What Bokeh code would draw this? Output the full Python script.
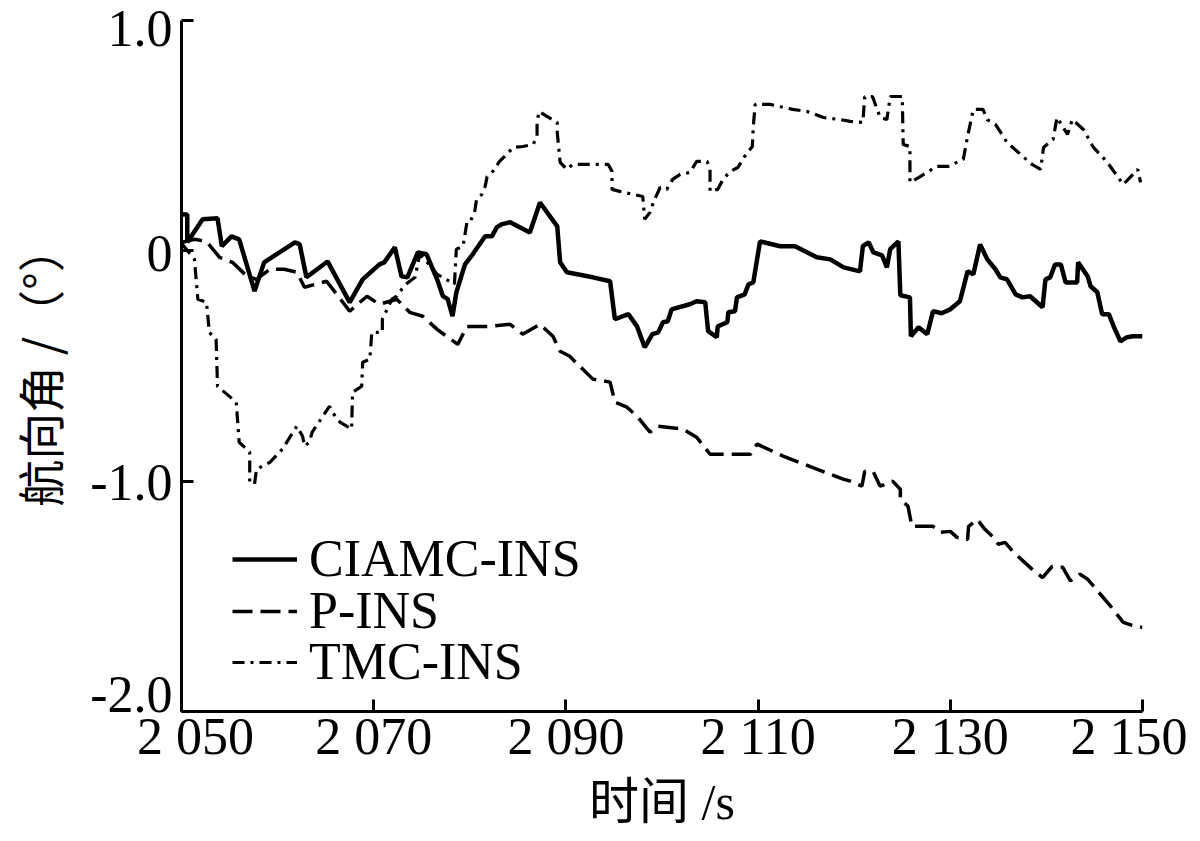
from bokeh.plotting import figure
from bokeh.models import Range1d, FixedTicker, Legend, LegendItem, LinearAxis
from bokeh.embed import file_html
from bokeh.resources import INLINE

# ---- data ----
ciamc_t = [2050.1, 2050.6, 2050.6, 2052.2, 2053.75, 2054.2, 2055.2, 2056.0, 2057.6, 2058.6,
           2061.8, 2062.3, 2063.0, 2065.2, 2067.5, 2068.85, 2070.6, 2071.1, 2072.2, 2072.9,
           2073.5, 2074.6, 2075.5, 2076.6, 2077.2, 2077.7, 2078.2, 2078.6, 2079.5, 2080.3,
           2081.6, 2082.3, 2082.8, 2083.3, 2084.2, 2086.25, 2087.3, 2089.1, 2089.4, 2090.1,
           2092.8, 2094.6, 2095.1, 2096.5, 2097.4, 2098.2, 2099.0, 2099.6, 2100.1, 2100.6,
           2101.0, 2102.9, 2103.6, 2104.5, 2104.8, 2105.7, 2105.8, 2106.8, 2106.9, 2107.6,
           2107.8, 2108.6, 2109.0, 2109.5, 2110.2, 2112.3, 2113.85, 2116.1, 2117.5, 2118.9,
           2120.6, 2120.9, 2121.5, 2122.0, 2122.9, 2123.4, 2123.75, 2124.6, 2124.8, 2125.8,
           2125.9, 2126.7, 2127.6, 2128.2, 2129.1, 2130.0, 2131.0, 2131.8, 2132.4, 2133.1,
           2133.85, 2134.7, 2135.2, 2135.9, 2136.8, 2137.5, 2138.3, 2139.6, 2139.9, 2140.4,
           2140.9, 2141.5, 2142.0, 2143.2, 2143.3, 2144.3, 2144.6, 2145.3, 2145.8, 2146.5,
           2147.0, 2147.7, 2148.4, 2149.0, 2150.0]
ciamc_v = [0.158, 0.158, 0.037, 0.137, 0.141, 0.020, 0.063, 0.050, -0.175, -0.050,
           0.037, 0.028, -0.115, -0.046, -0.224, -0.124, -0.059, -0.050, 0.015, -0.111,
           -0.115, -0.007, -0.015, -0.124, -0.197, -0.210, -0.284, -0.180, -0.059, -0.015,
           0.063, 0.063, 0.102, 0.115, 0.124, 0.080, 0.210, 0.106, -0.050, -0.093,
           -0.115, -0.132, -0.297, -0.275, -0.328, -0.419, -0.362, -0.354, -0.310, -0.306,
           -0.254, -0.232, -0.219, -0.223, -0.349, -0.375, -0.328, -0.310, -0.267, -0.262,
           -0.202, -0.189, -0.145, -0.137, 0.041, 0.020, 0.020, -0.028, -0.037, -0.072,
           -0.089, 0.020, 0.037, -0.007, -0.020, -0.072, 0.007, 0.041, -0.193, -0.202,
           -0.371, -0.332, -0.362, -0.262, -0.271, -0.254, -0.219, -0.089, -0.102, 0.028,
           -0.037, -0.080, -0.115, -0.124, -0.189, -0.202, -0.197, -0.245, -0.124, -0.115,
           -0.059, -0.059, -0.137, -0.137, -0.050, -0.111, -0.154, -0.180, -0.275, -0.275,
           -0.328, -0.393, -0.375, -0.371, -0.371]

pins_t = [2050.1, 2051.35, 2052.6, 2053.96, 2055.3, 2056.8, 2057.8, 2059.2, 2060.7, 2062.0,
          2062.8, 2065.1, 2067.5, 2069.3, 2070.6, 2072.4, 2073.75, 2075.1, 2076.6, 2078.75,
          2079.7, 2082.1, 2084.2, 2085.5, 2087.3, 2088.65, 2089.4, 2090.4, 2092.8, 2094.6,
          2095.1, 2096.35, 2097.4, 2098.75, 2099.6, 2102.2, 2103.6, 2105.0, 2109.2, 2109.9,
          2112.6, 2116.1, 2118.85, 2119.6, 2120.8, 2121.1, 2122.0, 2122.7, 2124.0, 2124.8,
          2124.8, 2125.6, 2126.0, 2128.2, 2129.0, 2130.0, 2130.7, 2131.8, 2131.9, 2132.8,
          2133.6, 2134.5, 2135.0, 2135.7, 2136.6, 2138.5, 2139.6, 2140.6, 2141.7, 2142.5,
          2143.5, 2144.3, 2146.7, 2148.0, 2149.3, 2150.0]
pins_v = [0.037, 0.050, 0.041, -0.028, -0.050, -0.110, -0.124, -0.080, -0.080, -0.093,
          -0.158, -0.132, -0.262, -0.197, -0.232, -0.210, -0.267, -0.284, -0.341, -0.406,
          -0.328, -0.328, -0.319, -0.362, -0.319, -0.371, -0.436, -0.458, -0.557, -0.570,
          -0.657, -0.679, -0.718, -0.787, -0.761, -0.774, -0.809, -0.883, -0.883, -0.839,
          -0.891, -0.948, -0.991, -1.000, -1.022, -0.957, -0.961, -1.022, -1.000, -1.035,
          -1.078, -1.109, -1.196, -1.196, -1.222, -1.218, -1.244, -1.253, -1.196, -1.166,
          -1.209, -1.244, -1.274, -1.266, -1.309, -1.382, -1.419, -1.370, -1.374, -1.433,
          -1.404, -1.426, -1.544, -1.613, -1.631, -1.635]

tmc_t = [2050.1, 2051.35, 2051.7, 2052.6, 2052.9, 2053.6, 2053.75, 2055.7, 2056.0, 2057.1,
         2057.1, 2057.6, 2057.8, 2059.2, 2060.5, 2062.0, 2062.6, 2062.8, 2063.3, 2063.6,
         2065.4, 2065.7, 2066.5, 2067.7, 2067.8, 2068.75, 2068.85, 2069.6, 2069.8, 2070.9,
         2070.9, 2071.9, 2072.4, 2073.2, 2074.3, 2074.8, 2075.5, 2076.6, 2078.4, 2078.6,
         2079.3, 2079.7, 2080.0, 2080.5, 2080.7, 2081.25, 2081.6, 2081.8, 2082.4, 2083.1,
         2083.85, 2084.5, 2085.5, 2086.6, 2087.0, 2087.0, 2087.2, 2089.1, 2089.1, 2089.4,
         2090.1, 2090.7, 2094.4, 2094.8, 2094.8, 2095.6, 2097.0, 2098.0, 2098.2, 2098.75,
         2099.1, 2099.8, 2100.5, 2101.1, 2101.9, 2102.9, 2103.6, 2104.7, 2105.0, 2105.0,
         2105.8, 2106.35, 2107.1, 2107.9, 2108.6, 2109.4, 2109.5, 2109.7, 2111.25, 2113.6,
         2115.1, 2116.8, 2118.5, 2119.6, 2120.9, 2121.1, 2121.9, 2122.7, 2123.4, 2123.75,
         2125.0, 2125.1, 2125.8, 2125.8, 2126.9, 2128.6, 2129.8, 2131.35, 2131.8, 2132.4,
         2133.4, 2133.85, 2134.7, 2135.9, 2138.5, 2139.4, 2139.7, 2140.7, 2141.1, 2142.2,
         2142.7, 2143.85, 2144.9, 2146.35, 2148.0, 2149.5, 2149.8]
tmc_v = [0.028, -0.037, -0.210, -0.223, -0.354, -0.384, -0.588, -0.657, -0.831, -0.874,
         -1.004, -1.013, -0.948, -0.918, -0.861, -0.761, -0.805, -0.848, -0.831, -0.787,
         -0.675, -0.701, -0.744, -0.774, -0.614, -0.588, -0.484, -0.471, -0.354, -0.354,
         -0.297, -0.210, -0.197, -0.150, -0.115, -0.015, -0.046, -0.102, -0.145, 0.007,
         0.020, 0.124, 0.124, 0.167, 0.223, 0.245, 0.280, 0.323, 0.345, 0.388,
         0.419, 0.449, 0.453, 0.462, 0.497, 0.557, 0.605, 0.557, 0.514, 0.384,
         0.354, 0.375, 0.375, 0.345, 0.267, 0.258, 0.245, 0.236, 0.137, 0.167,
         0.210, 0.275, 0.267, 0.310, 0.332, 0.340, 0.388, 0.388, 0.354, 0.258,
         0.267, 0.310, 0.345, 0.362, 0.410, 0.453, 0.540, 0.636, 0.636, 0.614,
         0.605, 0.579, 0.570, 0.562, 0.557, 0.670, 0.670, 0.579, 0.570, 0.670,
         0.670, 0.462, 0.453, 0.297, 0.323, 0.367, 0.367, 0.397, 0.497, 0.614,
         0.614, 0.570, 0.549, 0.471, 0.375, 0.354, 0.449, 0.484, 0.579, 0.505,
         0.570, 0.527, 0.449, 0.384, 0.288, 0.354, 0.297]

x_ticks = [2050, 2070, 2090, 2110, 2130, 2150]
x_tick_labels = ["2 050", "2 070", "2 090", "2 110", "2 130", "2 150"]
y_ticks = [1.0, 0.0, -1.0, -2.0]
y_tick_labels = ["1.0", "0", "-1.0", "-2.0"]
series_names = ["CIAMC-INS", "P-INS", "TMC-INS"]
x_title = "时间 /s"
y_title = "航向角 /（°）"

SERIF = "Liberation Serif"
FS = "52px"
FW, FH = 961, 691
X0, X1, Y0, Y1 = 2050, 2150, -2.0, 1.0

# label nudges in pixels (style): x right-positive, y down-positive, as in the reference
x_label_nudge = [14, 0, 0, 0, 0, -6]
y_label_nudge = [8, 3, 1, -17]
x_label_pos = [t + d * (X1 - X0) / FW for t, d in zip(x_ticks, x_label_nudge)]
y_label_pos = [t - d * (Y1 - Y0) / FH for t, d in zip(y_ticks, y_label_nudge)]

p = figure(frame_width=FW, frame_height=FH, output_backend="svg", toolbar_location=None,
           x_range=Range1d(X0, X1), y_range=Range1d(Y0, Y1),
           min_border_left=181, min_border_right=45, min_border_top=20, min_border_bottom=115)
p.outline_line_color = None
p.grid.visible = False
p.background_fill_color = "white"

r1 = p.line(ciamc_t, ciamc_v, line_color="black", line_width=4.5)
r2 = p.line(pins_t, pins_v, line_color="black", line_width=3.5, line_dash="20 8")
r3 = p.line(tmc_t, tmc_v, line_color="black", line_width=3.2, line_dash="12 6 3 6")

# main axes: lines and inward ticks only
for ax, ticks in ((p.xaxis[0], x_ticks), (p.yaxis[0], y_ticks)):
    ax.ticker = FixedTicker(ticks=ticks)
    ax.major_label_overrides = {t: "" for t in ticks}
    ax.major_label_text_font_size = "0px"
    ax.major_label_standoff = 0
    ax.axis_line_width = 3
    ax.axis_line_color = "black"
    ax.major_tick_line_width = 3
    ax.major_tick_line_color = "black"
    ax.major_tick_in = 12
    ax.major_tick_out = 0
    ax.minor_tick_line_color = None

# label axes: tick labels (nudged as in the reference) and titles
xlab = LinearAxis(ticker=FixedTicker(ticks=x_label_pos),
                  major_label_overrides=dict(zip(x_label_pos, x_tick_labels)))
ylab = LinearAxis(ticker=FixedTicker(ticks=y_label_pos),
                  major_label_overrides=dict(zip(y_label_pos, y_tick_labels)))
for ax in (xlab, ylab):
    ax.axis_line_color = None
    ax.major_tick_line_color = None
    ax.minor_tick_line_color = None
    ax.major_tick_in = 0
    ax.major_tick_out = 0
    ax.major_label_text_font = SERIF
    ax.major_label_text_font_size = FS
    ax.major_label_text_color = "black"
    ax.axis_label_text_font_style = "normal"
    ax.axis_label_text_color = "black"

xlab.major_label_standoff = -4
xlab.axis_label = x_title
xlab.axis_label_text_font = "Liberation Serif, Noto Sans CJK SC"
xlab.axis_label_text_font_size = "50px"
xlab.axis_label_standoff = 6

ylab.major_label_standoff = 9
ylab.axis_label = y_title
ylab.axis_label_text_font = "Noto Sans CJK SC"
ylab.axis_label_text_font_size = "47px"
ylab.axis_label_standoff = 14

p.add_layout(xlab, "below")
p.add_layout(ylab, "left")

# one legend per row, so the row pitch matches the reference
legend_rows_y = [123, 71, 20]
for name, rend, ly in zip(series_names, [r1, r2, r3], legend_rows_y):
    lg = Legend(items=[LegendItem(label=name, renderers=[rend])], location=(51, ly))
    lg.border_line_color = None
    lg.background_fill_alpha = 0
    lg.label_text_font = SERIF
    lg.label_text_font_size = FS
    lg.label_text_color = "black"
    lg.glyph_width = 65
    lg.glyph_height = 50
    lg.label_height = 50
    lg.spacing = 0
    lg.padding = 0
    lg.margin = 0
    lg.label_standoff = 12
    p.add_layout(lg)

open("out.html", "w").write(file_html(p, INLINE))
